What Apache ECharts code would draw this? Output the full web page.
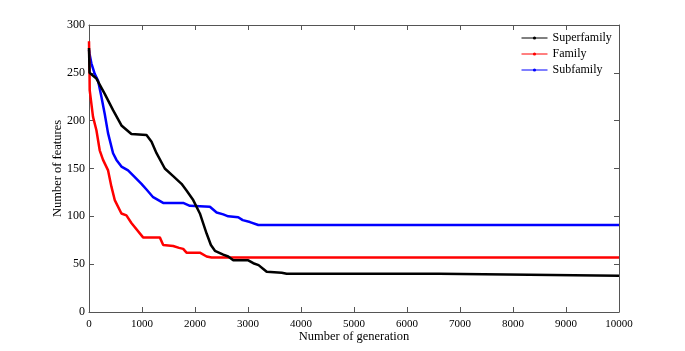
<!DOCTYPE html>
<html>
<head>
<meta charset="utf-8">
<script src="https://cdn.jsdelivr.net/npm/echarts@6/dist/echarts.min.js"></script>
<style>html,body{margin:0;padding:0;background:#fff}#c{width:685px;height:351px}</style>
</head>
<body>
<div id="c"></div>
<script>
const seriesNames = ['Superfamily', 'Family', 'Subfamily'];
const seriesColors = ['#000000', '#ff0000', '#0000ff'];
const xTicks = [0, 1000, 2000, 3000, 4000, 5000, 6000, 7000, 8000, 9000, 10000];
const yTicks = [0, 50, 100, 150, 200, 250, 300];

const superfamily = [
  [0, 276], [10, 250], [140, 244], [297, 228], [454, 211], [612, 195], [800, 186],
  [1085, 185], [1180, 178], [1274, 166], [1430, 150], [1588, 142], [1746, 134],
  [1840, 127], [1966, 117], [2092, 103], [2219, 82], [2300, 70], [2376, 64],
  [2533, 60], [2627, 58], [2722, 54], [2848, 54], [3005, 54], [3100, 51],
  [3200, 49], [3289, 45], [3353, 42], [3636, 41], [3730, 40], [6600, 40],
  [6600, 38], [10000, 38]
];
const family = [
  [0, 283], [10, 250], [13, 232], [76, 204], [140, 190], [202, 169], [265, 159],
  [360, 148], [423, 131], [486, 117], [612, 103], [706, 101], [800, 93],
  [1020, 78], [1336, 78], [1400, 70], [1588, 69], [1700, 67], [1777, 66],
  [1840, 62], [2092, 62], [2219, 58], [2313, 57], [10000, 57]
];
const subfamily = [
  [0, 274], [10, 270], [45, 260], [108, 249], [170, 242], [234, 225], [297, 207],
  [359, 187], [454, 166], [518, 159], [612, 152], [737, 148], [864, 141],
  [990, 134], [1085, 128], [1210, 120], [1399, 114], [1777, 114], [1903, 111],
  [2281, 110], [2408, 104], [2533, 102], [2627, 100], [2816, 99], [2900, 96],
  [3037, 94], [3194, 91], [10000, 91]
];
const seriesData = [superfamily, family, subfamily];

const chart = echarts.init(document.getElementById('c'), null, {renderer: 'canvas'});
const fontFam = '"Liberation Serif", "Times New Roman", serif';
const axisCol = '#555';

const baseX = {
  type: 'value', min: xTicks[0], max: xTicks[xTicks.length - 1], interval: 1000,
  axisLine: {show: true, onZero: false, lineStyle: {color: axisCol, width: 1}},
  axisTick: {show: true, inside: true, length: 5, lineStyle: {color: axisCol}},
  splitLine: {show: false}
};
const baseY = {
  type: 'value', min: yTicks[0], max: yTicks[yTicks.length - 1], interval: 50,
  axisLine: {show: true, onZero: false, lineStyle: {color: axisCol, width: 1}},
  axisTick: {show: true, inside: true, length: 5, lineStyle: {color: axisCol}},
  splitLine: {show: false}
};

chart.setOption({
  animation: false,
  backgroundColor: '#fff',
  grid: {left: 89, right: 66, top: 25, bottom: 39, containLabel: false},
  legend: {
    orient: 'vertical', left: 521, top: 32, padding: 0,
    itemWidth: 26, itemHeight: 4, itemGap: 4,
    data: seriesNames,
    textStyle: {fontFamily: fontFam, fontSize: 12, color: '#000'},
    lineStyle: {width: 1},
    itemStyle: {borderWidth: 0}
  },
  xAxis: [
    Object.assign({}, baseX, {
      position: 'bottom',
      name: 'Number of generation', nameLocation: 'middle', nameGap: 18,
      nameMoveOverlap: false,
      nameTextStyle: {fontFamily: fontFam, fontSize: 12.5, color: '#000'},
      axisLabel: {fontFamily: fontFam, fontSize: 11, color: '#000', margin: 7,
        formatter: v => String(v)}
    }),
    Object.assign({}, baseX, {position: 'top', axisLabel: {show: false}})
  ],
  yAxis: [
    Object.assign({}, baseY, {
      position: 'left',
      name: 'Number of features', nameLocation: 'middle', nameGap: 25,
      nameMoveOverlap: false,
      nameTextStyle: {fontFamily: fontFam, fontSize: 12.5, color: '#000'},
      axisLabel: {fontFamily: fontFam, fontSize: 12, color: '#000', margin: 4,
        formatter: v => String(v)}
    }),
    Object.assign({}, baseY, {position: 'right', axisLabel: {show: false}})
  ],
  series: seriesNames.map((n, i) => ({
    name: n, type: 'line', data: seriesData[i],
    xAxisIndex: 0, yAxisIndex: 0,
    symbol: 'circle', symbolSize: 3, showSymbol: false,
    color: seriesColors[i],
    lineStyle: {color: seriesColors[i], width: 2.5},
    itemStyle: {color: seriesColors[i]},
    z: 3 - i
  }))
});
</script>
</body>
</html>
